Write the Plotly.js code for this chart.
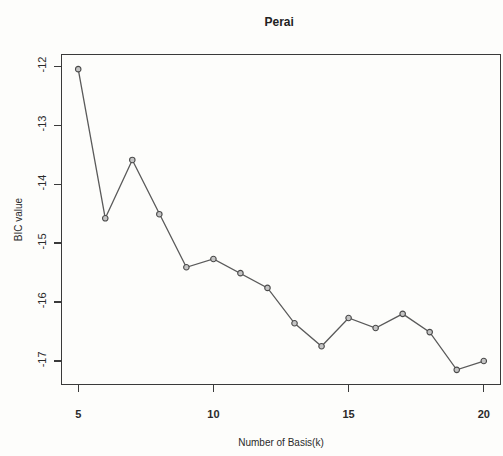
<!DOCTYPE html>
<html>
<head>
<meta charset="utf-8">
<script src="https://cdn.plot.ly/plotly-3.0.1.min.js"></script>
<style>
  html, body { margin: 0; padding: 0; background: #fdfdfb; }
  #chart { width: 503px; height: 456px; }
</style>
</head>
<body>
<div id="chart"></div>
<script>
// Number of basis functions k and the BIC value for each
const basisK = [5, 6, 7, 8, 9, 10, 11, 12, 13, 14, 15, 16, 17, 18, 19, 20];
const bicValues = [-12.05, -14.58, -13.59, -14.51, -15.41, -15.27, -15.51, -15.76,
                   -16.36, -16.75, -16.27, -16.44, -16.20, -16.51, -17.15, -17.00];
const xTicks = [5, 10, 15, 20];
const yTicks = [-12, -13, -14, -15, -16, -17];

const font = "'Liberation Sans Narrow', 'Liberation Sans', Arial, sans-serif";
const ink = '#3a3a3a';

const trace = {
  x: basisK,
  y: bicValues,
  type: 'scatter',
  mode: 'lines+markers',
  line: { color: '#5a5a5a', width: 1.3 },
  marker: { symbol: 'circle', size: 5.5, color: '#c4c4c4', line: { color: '#4a4a4a', width: 1.1 } },
  hoverinfo: 'x+y'
};

const layout = {
  width: 503,
  height: 456,
  margin: { l: 62, r: 3, t: 55, b: 72 },
  paper_bgcolor: '#fdfdfb',
  plot_bgcolor: '#fdfdfb',
  showlegend: false,
  title: {
    text: '<b>Perai</b>',
    font: { family: font, size: 12, color: '#222' },
    x: 0.555, xanchor: 'center', y: 0.953, yanchor: 'middle'
  },
  xaxis: {
    range: [4.4, 20.6],
    tickvals: xTicks,
    ticktext: xTicks.map(v => '<b>' + v + '</b>'),
    ticks: 'outside', ticklen: 7, tickwidth: 1.2, tickcolor: ink,
    ticklabelstandoff: 13,
    showline: true, linecolor: ink, linewidth: 1.2, mirror: true,
    showgrid: false, zeroline: false,
    tickfont: { family: font, size: 11, color: '#2a2a2a' },
    title: { text: 'Number of Basis(k)', font: { family: font, size: 10, color: '#2a2a2a' }, standoff: 19 }
  },
  yaxis: {
    range: [-17.39, -11.81],
    tickvals: yTicks,
    ticktext: yTicks.map(String),
    tickangle: -90,
    ticks: 'outside', ticklen: 7, tickwidth: 1.2, tickcolor: ink,
    ticklabelstandoff: 3,
    showline: true, linecolor: ink, linewidth: 1.2, mirror: true,
    showgrid: false, zeroline: false,
    tickfont: { family: font, size: 11, color: '#2a2a2a' },
    title: { text: 'BIC value', font: { family: font, size: 10, color: '#2a2a2a' }, standoff: 12 }
  }
};

Plotly.newPlot('chart', [trace], layout, { displayModeBar: false, staticPlot: true });
</script>
</body>
</html>
